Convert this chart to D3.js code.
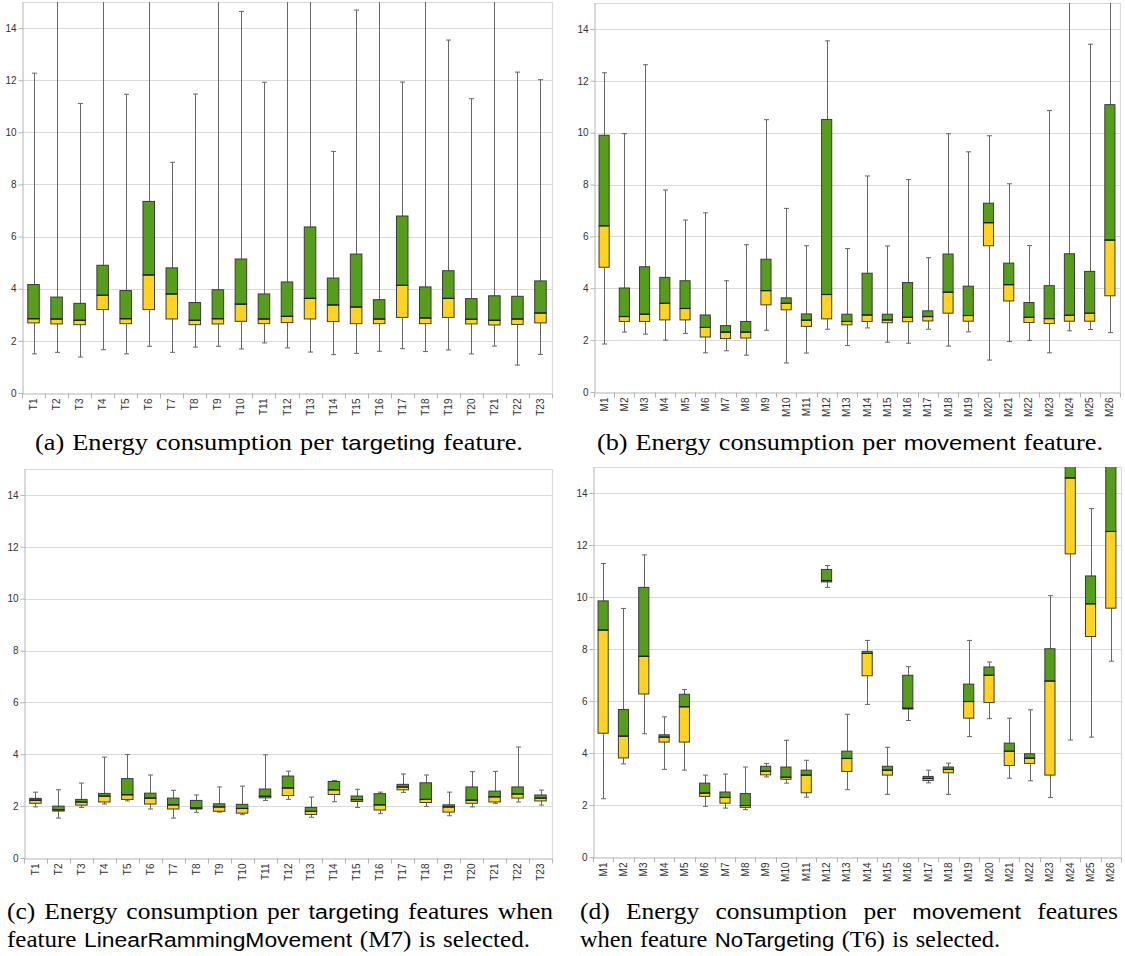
<!DOCTYPE html>
<html>
<head>
<meta charset="utf-8">
<script src="https://cdn.jsdelivr.net/npm/d3@7"></script>
<style>
  html, body { margin: 0; padding: 0; background: #ffffff; }
  svg { display: block; }
  .cap-serif { font-family: "Liberation Serif", "DejaVu Serif", "Times New Roman", serif; }
  .cap-sans { font-family: "Liberation Sans", "DejaVu Sans", Arial, sans-serif; }
</style>
</head>
<body>
<svg id="chart" width="1125" height="956"></svg>
<script>
// ---------- Data ----------
const targetingLabels = ["T1","T2","T3","T4","T5","T6","T7","T8","T9","T10","T11","T12","T13","T14","T15","T16","T17","T18","T19","T20","T21","T22","T23"];
const movementLabels = ["M1","M2","M3","M4","M5","M6","M7","M8","M9","M10","M11","M12","M13","M14","M15","M16","M17","M18","M19","M20","M21","M22","M23","M24","M25","M26"];
const yTickValues = [0, 2, 4, 6, 8, 10, 12, 14];

// (a) targeting features
const aMin = [1.50,1.56,1.38,1.66,1.50,1.79,1.56,1.76,1.79,1.69,1.92,1.73,1.57,1.47,1.52,1.60,1.70,1.59,1.65,1.50,1.80,1.07,1.48];
const aQ1  = [2.69,2.65,2.62,3.20,2.66,3.20,2.84,2.62,2.65,2.75,2.66,2.70,2.84,2.74,2.66,2.66,2.90,2.66,2.90,2.65,2.61,2.63,2.69];
const aMed = [2.85,2.84,2.79,3.75,2.85,4.53,3.80,2.79,2.85,3.41,2.84,2.94,3.63,3.38,3.30,2.84,4.13,2.88,3.63,2.83,2.79,2.84,3.07];
const aQ3  = [4.16,3.68,3.44,4.90,3.93,7.35,4.80,3.47,3.96,5.14,3.80,4.26,6.37,4.41,5.33,3.58,6.79,4.07,4.69,3.62,3.73,3.71,4.30];
const aMax = [12.27,18.0,11.11,18.0,11.46,18.0,8.85,11.47,18.0,14.64,11.92,18.0,18.0,9.27,14.69,18.0,11.93,18.0,13.54,11.29,18.0,12.31,12.02];

// (b) movement features
const bMin = [1.85,2.31,2.23,2.00,2.26,1.51,1.59,1.42,2.38,1.12,1.50,2.42,1.79,2.47,1.92,1.88,2.42,1.77,2.32,1.23,1.95,1.99,1.51,2.36,2.41,2.29];
const bQ1  = [4.81,2.72,2.72,2.78,2.78,2.12,2.06,2.08,3.36,3.17,2.53,2.82,2.59,2.72,2.67,2.71,2.74,3.04,2.73,5.64,3.51,2.68,2.64,2.73,2.73,3.71];
const bMed = [6.41,2.91,3.00,3.42,3.22,2.49,2.31,2.31,3.91,3.42,2.77,3.76,2.72,2.97,2.78,2.88,2.91,3.85,2.95,6.53,4.14,2.88,2.83,2.96,3.04,5.86];
const bQ3  = [9.90,4.01,4.83,4.42,4.29,2.97,2.56,2.72,5.12,3.63,3.01,10.51,3.00,4.58,3.00,4.22,3.13,5.32,4.08,7.28,4.97,3.45,4.10,5.33,4.65,11.08];
const bMax = [12.31,9.96,12.62,7.79,6.63,6.91,4.29,5.68,10.50,7.08,5.64,13.54,5.53,8.33,5.63,8.19,5.18,9.96,9.26,9.88,8.03,5.65,10.85,18.0,13.41,18.0];

// (c) targeting features when M7 is selected
const cMin = [1.97,1.54,1.95,2.08,2.20,1.89,1.54,1.76,1.77,1.67,2.22,2.26,1.57,2.17,1.95,1.71,2.53,1.99,1.63,1.97,2.11,2.16,2.04];
const cQ1  = [2.11,1.81,2.04,2.16,2.26,2.08,1.89,1.89,1.80,1.73,2.32,2.41,1.68,2.45,2.18,1.85,2.63,2.14,1.77,2.11,2.16,2.31,2.20];
const cMed = [2.23,1.86,2.16,2.39,2.44,2.31,2.05,1.93,1.97,1.91,2.38,2.70,1.80,2.63,2.25,2.05,2.74,2.26,1.97,2.23,2.36,2.47,2.31];
const cQ3  = [2.30,2.00,2.26,2.49,3.06,2.50,2.31,2.22,2.09,2.07,2.66,3.16,1.95,2.95,2.39,2.48,2.84,2.90,2.05,2.74,2.58,2.74,2.43];
const cMax = [2.54,2.63,2.89,3.89,3.99,3.20,2.61,2.43,2.74,2.77,3.98,3.35,2.35,2.99,2.65,2.54,3.24,3.20,2.54,3.33,3.34,4.28,2.62];

// (d) movement features when T6 is selected
const dMin = [2.24,3.58,4.74,3.37,3.34,1.95,1.88,1.82,3.08,2.84,2.30,10.37,2.59,5.87,2.41,5.25,2.85,2.41,4.63,5.32,3.03,2.93,2.29,4.50,4.61,7.53];
const dQ1  = [4.76,3.81,6.27,4.42,4.42,2.33,2.07,1.91,3.16,2.99,2.47,10.58,3.29,6.97,3.15,5.69,2.94,3.24,5.34,5.94,3.52,3.60,3.15,11.66,8.48,9.57];
const dMed = [8.73,4.65,7.72,4.61,5.78,2.46,2.29,1.98,3.30,3.07,3.15,10.63,3.79,7.83,3.34,5.72,3.02,3.37,5.98,6.99,4.07,3.80,6.77,14.58,9.74,12.52];
const dQ3  = [9.85,5.67,10.37,4.70,6.26,2.84,2.50,2.44,3.49,3.46,3.34,11.06,4.07,7.91,3.49,6.99,3.10,3.46,6.65,7.31,4.38,3.97,8.01,16.0,10.81,17.0];
const dMax = [11.29,9.56,11.62,5.39,6.44,3.15,3.19,3.46,3.60,4.49,3.72,11.21,5.49,8.33,4.22,7.32,3.34,3.61,8.33,7.50,5.34,5.66,10.05,17.5,13.40,19.0];

// ---------- Styles ----------
const yellow = "#ffd320";
const green = "#579d1c";
const boxStroke = "#3a3a3a";
const whiskerColor = "#666666";
const gridColor = "#dadada";
const axisColor = "#b3b3b3";
const labelColor = "#333333";

const panels = [
  { id: "a", labels: targetingLabels, min: aMin, q1: aQ1, med: aMed, q3: aQ3, max: aMax, x0: 22,  x1: 552,  y0: 2,   y1: 393 },
  { id: "b", labels: movementLabels,  min: bMin, q1: bQ1, med: bMed, q3: bQ3, max: bMax, x0: 594, x1: 1120, y0: 3,   y1: 392 },
  { id: "c", labels: targetingLabels, min: cMin, q1: cQ1, med: cMed, q3: cQ3, max: cMax, x0: 24,  x1: 552,  y0: 469, y1: 858 },
  { id: "d", labels: movementLabels,  min: dMin, q1: dQ1, med: dMed, q3: dQ3, max: dMax, x0: 593, x1: 1121, y0: 467, y1: 857 }
];

const svg = d3.select("#chart");
const defs = svg.append("defs");

panels.forEach(p => {
  const x = d3.scaleBand().domain(p.labels).range([p.x0, p.x1]).paddingInner(0.5).paddingOuter(0.25);
  const y = d3.scaleLinear().domain([0, 15]).range([p.y1, p.y0]);
  const g = svg.append("g").attr("class", "panel-" + p.id);

  defs.append("clipPath").attr("id", "clip-" + p.id)
    .append("rect").attr("x", p.x0).attr("y", p.y0).attr("width", p.x1 - p.x0).attr("height", p.y1 - p.y0);

  // gridlines
  g.append("g").selectAll("line").data(yTickValues.filter(v => v > 0)).join("line")
    .attr("x1", p.x0).attr("x2", p.x1)
    .attr("y1", d => Math.round(y(d)) + 0.5).attr("y2", d => Math.round(y(d)) + 0.5)
    .attr("stroke", gridColor).attr("stroke-width", 1.2);

  // frame top & right
  g.append("line").attr("x1", p.x0).attr("x2", p.x1).attr("y1", Math.round(y(15)) + 0.5).attr("y2", Math.round(y(15)) + 0.5)
    .attr("stroke", gridColor).attr("stroke-width", 1.2);
  g.append("line").attr("x1", p.x1 + 0.5).attr("x2", p.x1 + 0.5).attr("y1", y(15)).attr("y2", y(0))
    .attr("stroke", gridColor).attr("stroke-width", 1.2);

  // y axis
  const yAxis = g.append("g").attr("transform", `translate(${p.x0 + 0.5},0)`)
    .call(d3.axisLeft(y).tickValues(yTickValues).tickSize(4).tickSizeOuter(0).tickPadding(2).tickFormat(d3.format("d")));
  yAxis.select(".domain").attr("stroke", axisColor);
  yAxis.selectAll(".tick line").attr("stroke", axisColor);
  yAxis.selectAll("text").attr("fill", labelColor).style("font-family", "'Liberation Sans', Arial, sans-serif").style("font-size", "10px");

  // x axis
  const xAxis = g.append("g").attr("transform", `translate(0,${Math.round(y(0)) + 0.5})`)
    .call(d3.axisBottom(x).tickSize(0).tickSizeOuter(0));
  xAxis.select(".domain").attr("stroke", axisColor);
  xAxis.selectAll("text")
    .attr("transform", "rotate(-90)")
    .attr("x", -5).attr("y", 0).attr("dy", "0.35em")
    .style("text-anchor", "end")
    .attr("fill", labelColor)
    .style("font-family", "'Liberation Sans', Arial, sans-serif").style("font-size", "10px");
  // category boundary ticks
  const step = x.step();
  const starts = p.labels.map(l => x(l) - (step - x.bandwidth()) / 2);
  const boundaries = starts.concat([starts[starts.length - 1] + step]);
  xAxis.append("g").selectAll("line").data(boundaries).join("line")
    .attr("x1", d => Math.round(d) + 0.5).attr("x2", d => Math.round(d) + 0.5)
    .attr("y1", 0).attr("y2", 5).attr("stroke", axisColor);

  // boxes
  const data = p.labels.map((l, i) => ({ l, min: p.min[i], q1: p.q1[i], med: p.med[i], q3: p.q3[i], max: p.max[i] }));
  const marks = g.append("g").attr("clip-path", `url(#clip-${p.id})`);
  const bw = x.bandwidth();
  const cx = d => x(d.l) + bw / 2;
  const cap = 2.5;

  const item = marks.selectAll("g.box").data(data).join("g").attr("class", "box");
  item.append("line")
    .attr("x1", d => Math.round(cx(d)) + 0.5).attr("x2", d => Math.round(cx(d)) + 0.5)
    .attr("y1", d => y(d.min)).attr("y2", d => y(d.max))
    .attr("stroke", whiskerColor).attr("stroke-width", 1);
  item.append("line")
    .attr("x1", d => Math.round(cx(d)) + 0.5 - cap).attr("x2", d => Math.round(cx(d)) + 0.5 + cap)
    .attr("y1", d => y(d.min)).attr("y2", d => y(d.min))
    .attr("stroke", whiskerColor).attr("stroke-width", 1);
  item.append("line")
    .attr("x1", d => Math.round(cx(d)) + 0.5 - cap).attr("x2", d => Math.round(cx(d)) + 0.5 + cap)
    .attr("y1", d => y(d.max)).attr("y2", d => y(d.max))
    .attr("stroke", whiskerColor).attr("stroke-width", 1);
  item.append("rect")
    .attr("x", d => x(d.l)).attr("width", bw)
    .attr("y", d => y(d.med)).attr("height", d => Math.max(0, y(d.q1) - y(d.med)))
    .attr("fill", yellow).attr("stroke", boxStroke).attr("stroke-width", 1);
  item.append("rect")
    .attr("x", d => x(d.l)).attr("width", bw)
    .attr("y", d => y(d.q3)).attr("height", d => Math.max(0, y(d.med) - y(d.q3)))
    .attr("fill", green).attr("stroke", boxStroke).attr("stroke-width", 1);
  item.append("line")
    .attr("x1", d => x(d.l)).attr("x2", d => x(d.l) + bw)
    .attr("y1", d => y(d.med)).attr("y2", d => y(d.med))
    .attr("stroke", "#1e1e1e").attr("stroke-width", 1.2);
});

// ---------- Captions ----------
const serifSize = 23, sansSize = 21;

function wordsOf(parts) {
  const words = [];
  parts.forEach(([t, f]) => t.split(" ").filter(w => w).forEach(w => words.push({ w, f })));
  return words;
}

function measureWords(g, words) {
  return words.map(wd => g.append("text")
    .text(wd.w)
    .attr("class", wd.f === "sans" ? "cap-sans" : "cap-serif")
    .style("font-size", (wd.f === "sans" ? sansSize : serifSize) + "px")
    .attr("fill", "#000"));
}

function naturalWidth(parts) {
  const tmp = svg.append("g");
  const words = wordsOf(parts);
  const texts = measureWords(tmp, words);
  const sum = texts.reduce((a, t) => a + t.node().getComputedTextLength(), 0);
  tmp.remove();
  return sum + serifSize * 0.3 * (words.length - 1);
}

function layoutLine(parts, x, yBase, opts) {
  const words = wordsOf(parts);
  const g = svg.append("g");
  const texts = measureWords(g, words);
  const widths = texts.map(t => t.node().getComputedTextLength());
  const sum = widths.reduce((a, b) => a + b, 0);
  const sx = opts.sx;
  let gap = serifSize * 0.3;
  if (opts.justify) gap = (opts.width / sx - sum) / (words.length - 1);
  let cur = 0;
  texts.forEach((t, i) => { t.attr("x", cur).attr("y", 0); cur += widths[i] + gap; });
  g.attr("transform", `translate(${x},${yBase}) scale(${sx},1)`);
}

const capA = [["(a) Energy consumption per", "serif"], ["targeting", "sans"], ["feature.", "serif"]];
const capB = [["(b) Energy consumption per", "serif"], ["movement", "sans"], ["feature.", "serif"]];
const capC1 = [["(c) Energy consumption per", "serif"], ["targeting", "sans"], ["features when", "serif"]];
const capC2 = [["feature", "serif"], ["LinearRammingMovement", "sans"], ["(M7) is selected.", "serif"]];
const capD1 = [["(d) Energy consumption per", "serif"], ["movement", "sans"], ["features", "serif"]];
const capD2 = [["when feature", "serif"], ["NoTargeting", "sans"], ["(T6) is selected.", "serif"]];

const sxA = 488 / naturalWidth(capA);
const sxB = 506 / naturalWidth(capB);
const sxC2 = 523 / naturalWidth(capC2);
const sxD2 = 420 / naturalWidth(capD2);
const sxAvg = (sxA + sxB + sxC2 + sxD2) / 4;

layoutLine(capA, 35, 450, { sx: sxA });
layoutLine(capB, 597, 450, { sx: sxB });
layoutLine(capC1, 7, 919, { sx: sxAvg, justify: true, width: 546 });
layoutLine(capC2, 7, 947, { sx: sxC2 });
layoutLine(capD1, 580, 919, { sx: sxAvg, justify: true, width: 538 });
layoutLine(capD2, 580, 947, { sx: sxD2 });
</script>
</body>
</html>
